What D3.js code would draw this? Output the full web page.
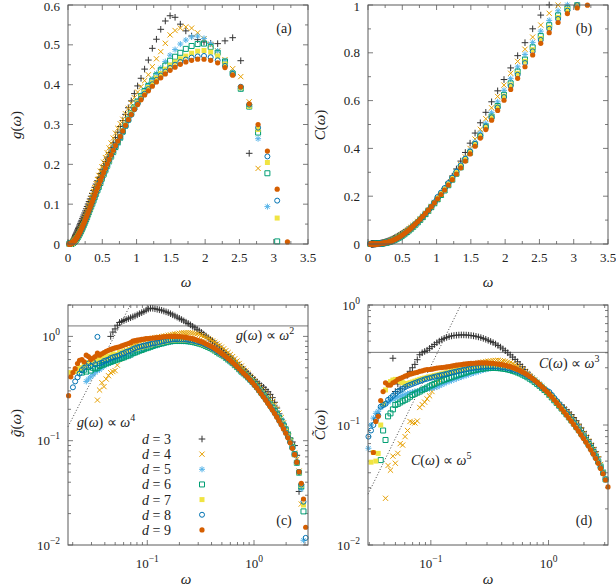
<!DOCTYPE html>
<html><head><meta charset="utf-8">
<script src="https://cdn.jsdelivr.net/npm/d3@7"></script>
<style>
body{margin:0;background:#fff}
svg{display:block}
text{font-family:"Liberation Serif","Times New Roman",serif;fill:#222}
</style>
</head><body>
<svg id="chart" width="616" height="586"></svg>
<script>
// shared frequency grid (log-spaced bins), high to low
const omega = [
3.2,3.0505,2.908,2.7722,2.6427,2.5193,2.4016,2.2894,2.1825,2.0806,
1.9834,1.8908,1.8025,1.7183,1.638,1.5615,1.4886,1.4191,1.3528,1.2896,
1.2294,1.172,1.1172,1.065,1.0153,0.9679,0.9227,0.8796,0.8385,0.7993,
0.762,0.7264,0.6925,0.6601,0.6293,0.5999,0.5719,0.5452,0.5197,0.4954,
0.4723,0.4502,0.4292,0.4092,0.3901,0.3718,0.3545,0.3379,0.3221,0.3071,
0.2928,0.2791,0.266,0.2536,0.2418,0.2305,0.2197,0.2095,0.1997,0.1904,
0.1815,0.173,0.1649,0.1572,0.1499,0.1429,0.1362,0.1298,0.1238,0.118,
0.1125,0.1072,0.1022,0.0975,0.0929,0.0886,0.0844,0.0805,0.0767,0.0732,
0.0697,0.0665,0.0634,0.0604,0.0576,0.0549,0.0524,0.0499,0.0476,0.0454,
0.0433,0.0412,0.0393,0.0375,0.0357,0.0341,0.0325,0.031,0.0295,0.0281,
0.0268,0.0256,0.0244,0.0232,0.0222,0.0211,0.0201,0.0192,0.0183];

// reduced density of states g~(w) = g(w)/w^2, per dimension d
const gt3 = [
null,null,null,null,0.0326,0.0725,0.0898,0.0973,0.1056,0.1164,
0.1289,0.1435,0.1607,0.1812,0.2057,0.2334,0.2586,0.278,0.2945,0.3091,
0.325,0.3362,0.3518,0.3668,0.385,0.403,0.422,0.442,0.463,0.485,
0.508,0.532,0.557,0.583,0.61,0.638,0.667,0.697,0.728,0.76,
0.793,0.827,0.862,0.898,0.935,0.972,1.01,1.05,1.09,1.13,
1.17,1.21,1.25,1.29,1.33,1.37,1.41,1.45,1.49,1.53,
1.57,1.61,1.65,1.69,1.72,1.75,1.78,1.8,1.82,1.84,
1.86,1.86,1.83,1.78,1.73,1.69,1.65,1.61,1.57,1.54,
1.51,1.48,1.45,1.42,1.39,1.36,1.28,1.18,1.1,1.0];
const gt4 = [
null,null,null,0.0247,0.0511,0.0662,0.0763,0.0883,0.1018,0.1155,
0.1309,0.1483,0.1668,0.1846,0.202,0.2198,0.2369,0.2502,0.2639,0.2796,
0.2945,0.3093,0.3285,0.3483,0.37,0.392,0.415,0.44,0.465,0.49,
0.52,0.55,0.58,0.61,0.64,0.67,0.7,0.73,0.76,0.79,
0.82,0.85,0.878,0.905,0.93,0.955,0.978,1.0,1.02,1.04,
1.055,1.067,1.076,1.082,1.085,1.085,1.082,1.077,1.07,1.062,
1.053,1.044,1.035,1.025,1.015,1.005,0.995,0.985,0.978,0.97,
0.96,0.95,0.94,0.93,0.92,0.905,0.89,0.87,0.85,0.83,
0.8,0.77,0.74,0.7,0.663,0.607,0.53,0.47,0.46,0.449,
0.42,0.39,0.33,0.36,0.306,0.245];
const gt5 = [
null,null,0.0111,0.0344,0.0494,0.0614,0.0746,0.0878,0.1018,0.1162,
0.1312,0.146,0.16,0.1734,0.1871,0.2002,0.2139,0.2274,0.2415,0.2574,
0.274,0.2911,0.3101,0.3289,0.347,0.365,0.383,0.401,0.419,0.437,
0.456,0.479,0.502,0.524,0.547,0.569,0.592,0.614,0.636,0.658,
0.679,0.702,0.724,0.746,0.763,0.78,0.797,0.814,0.831,0.843,
0.856,0.867,0.878,0.884,0.89,0.895,0.898,0.9,0.901,0.901,
0.9,0.893,0.886,0.877,0.868,0.856,0.845,0.834,0.823,0.812,
0.8,0.79,0.78,0.77,0.76,0.745,0.73,0.715,0.7,0.685,
0.66,0.65,0.64,0.63,0.62,0.61,0.6,0.59,0.58,0.565,
0.55,0.54,0.52,0.5,0.48,0.47,0.45,0.43,0.41,0.39,
0.37];
const gt6 = [
null,0.0007,0.021,0.0364,0.0494,0.0614,0.0742,0.0874,0.1008,0.1143,
0.1279,0.1404,0.153,0.1659,0.1789,0.1928,0.2076,0.2224,0.2383,0.2544,
0.2713,0.2889,0.3077,0.3272,0.347,0.366,0.385,0.404,0.423,0.442,
0.46,0.484,0.508,0.531,0.555,0.578,0.601,0.624,0.647,0.67,
0.686,0.709,0.732,0.754,0.773,0.791,0.808,0.825,0.842,0.854,
0.865,0.876,0.887,0.893,0.899,0.903,0.905,0.907,0.907,0.907,
0.91,0.903,0.897,0.889,0.88,0.868,0.857,0.846,0.835,0.824,
0.81,0.795,0.78,0.77,0.755,0.74,0.73,0.715,0.7,0.69,
0.67,0.655,0.645,0.63,0.62,0.61,0.6,0.59,0.58,0.57,
0.56,0.55,0.54,0.53,0.52,0.5,0.49,0.5,0.47,0.51,
0.46,0.48,0.45,0.476];
const gt7 = [
null,0.007,0.0242,0.0374,0.0495,0.0618,0.0739,0.0862,0.0991,0.1113,
0.1235,0.1354,0.1474,0.1598,0.1733,0.1874,0.2026,0.218,0.2339,0.2508,
0.268,0.286,0.3053,0.3254,0.344,0.364,0.384,0.404,0.424,0.444,
0.465,0.488,0.511,0.534,0.557,0.58,0.603,0.626,0.649,0.672,
0.694,0.717,0.74,0.763,0.781,0.799,0.817,0.835,0.853,0.866,
0.879,0.891,0.903,0.91,0.917,0.922,0.925,0.927,0.929,0.929,
0.93,0.924,0.918,0.91,0.901,0.891,0.881,0.872,0.862,0.854,
0.85,0.83,0.84,0.81,0.82,0.79,0.8,0.77,0.76,0.775,
0.73,0.74,0.71,0.72,0.69,0.7,0.67,0.66,0.68,0.64,
0.65,0.62,0.63,0.6,0.61,0.58,0.57,0.6,0.55,0.56,
0.52,0.54,0.5,0.5,0.47,0.46,null,0.45];
const gt8 = [
null,0.0117,0.026,0.038,0.0501,0.0622,0.074,0.0853,0.0968,0.1083,
0.12,0.1317,0.144,0.1568,0.1703,0.1846,0.1995,0.215,0.2311,0.2477,
0.2654,0.2831,0.3021,0.3219,0.341,0.361,0.381,0.402,0.422,0.442,
0.463,0.487,0.511,0.535,0.558,0.582,0.605,0.628,0.652,0.675,
0.697,0.721,0.745,0.769,0.788,0.807,0.826,0.845,0.864,0.878,
0.888,0.9,0.912,0.919,0.926,0.93,0.934,0.936,0.938,0.939,
0.94,0.934,0.928,0.92,0.911,0.901,0.891,0.881,0.871,0.863,
0.855,0.845,0.835,0.825,0.815,0.805,0.795,0.785,0.77,0.755,
0.73,0.72,0.71,0.69,0.68,0.66,0.65,0.64,0.63,0.62,
0.6,0.59,0.58,0.56,0.55,0.99,0.54,0.57,0.52,0.55,
0.52,0.5,0.476,0.44,0.405,0.37,0.325];
const gt9 = [
0.0005,0.0148,0.0276,0.039,0.0504,0.0622,0.0735,0.0845,0.0955,0.1065,
0.1179,0.1298,0.1419,0.1548,0.1681,0.1821,0.1968,0.212,0.2279,0.2447,
0.262,0.28,0.2997,0.3192,0.3395,0.3608,0.3817,0.4033,0.4238,0.4445,
0.465,0.49,0.515,0.54,0.565,0.59,0.615,0.64,0.665,0.69,
0.715,0.74,0.765,0.79,0.81,0.83,0.85,0.87,0.89,0.905,
0.92,0.935,0.95,0.96,0.97,0.978,0.985,0.99,0.995,0.998,
1.0,1.0,1.0,0.998,0.995,0.99,0.985,0.98,0.975,0.97,
0.965,0.96,0.955,0.95,0.94,0.935,0.925,0.92,0.91,0.9,
0.87,0.855,0.84,0.825,0.81,0.795,0.785,0.775,0.765,0.75,
0.735,0.72,0.7,0.68,0.66,0.69,0.64,0.62,0.6,0.64,
0.66,0.57,0.6,0.59,0.55,0.49,0.45,0.41,0.27];

// reduced cumulative C~(w) = C(w)/w^3, per dimension d
const ct3 = [
null,null,null,null,0.0542,0.0599,0.065,0.0702,0.0758,0.0818,
0.0882,0.0948,0.1016,0.1086,0.1154,0.1219,0.1279,0.134,0.1401,0.1464,
0.1529,0.1596,0.1664,0.1738,0.1815,0.189,0.197,0.206,0.215,0.225,
0.236,0.248,0.261,0.275,0.29,0.305,0.32,0.336,0.352,0.368,
0.384,0.4,0.416,0.431,0.446,0.46,0.473,0.486,0.497,0.508,
0.518,0.527,0.535,0.542,0.548,0.553,0.557,0.56,0.562,0.563,
0.563,0.562,0.56,0.557,0.552,0.545,0.537,0.527,0.515,0.5,
0.485,0.468,0.45,0.435,0.42,0.41,0.4,0.385,0.35,0.32,
0.3,0.28,0.26,0.21,0.23,0.2,0.22,0.19,0.36];
const ct4 = [
null,null,null,0.0469,0.0523,0.0573,0.0625,0.0679,0.0735,0.0793,
0.0852,0.0913,0.0973,0.1033,0.1092,0.1153,0.1212,0.1274,0.1341,0.1408,
0.148,0.1553,0.1628,0.1705,0.1787,0.187,0.196,0.205,0.215,0.225,
0.236,0.247,0.258,0.269,0.28,0.29,0.3,0.309,0.317,0.324,
0.33,0.335,0.339,0.342,0.344,0.345,0.345,0.344,0.342,0.34,
0.338,0.335,0.332,0.328,0.324,0.32,0.316,0.312,0.308,0.304,
0.3,0.296,0.292,0.287,0.282,0.276,0.27,0.26,0.248,0.237,
0.225,0.208,0.19,0.175,0.165,0.155,0.148,0.14,0.108,0.104,
0.105,0.107,0.09,0.08,0.068,0.07,0.058,0.048,0.055,0.042,
0.046,0.0245];
const ct5 = [
null,null,0.0407,0.0458,0.0507,0.0557,0.0609,0.0661,0.0713,0.0768,
0.0824,0.088,0.0938,0.0995,0.1058,0.1122,0.1188,0.1256,0.1329,0.1408,
0.1491,0.1571,0.1664,0.1755,0.1854,0.194,0.203,0.212,0.221,0.23,
0.239,0.248,0.256,0.264,0.271,0.277,0.283,0.288,0.292,0.296,
0.299,0.301,0.302,0.303,0.303,0.302,0.301,0.299,0.297,0.294,
0.291,0.287,0.283,0.279,0.275,0.271,0.267,0.263,0.259,0.255,
0.251,0.247,0.243,0.239,0.235,0.231,0.227,0.222,0.217,0.212,
0.207,0.205,0.203,0.201,0.2,0.198,0.196,0.194,0.192,0.19,
0.188,0.185,0.182,0.18,0.177,0.174,0.171,0.168,0.165,0.16,
0.155,0.15,0.145,0.14,0.13,0.125,0.114,0.1,0.064];
const ct6 = [
null,0.0352,0.0401,0.0449,0.0496,0.0544,0.0594,0.0643,0.0694,0.0746,
0.08,0.0854,0.091,0.0968,0.1028,0.1093,0.1158,0.1228,0.1296,0.1371,
0.1448,0.1528,0.1607,0.1697,0.1787,0.188,0.196,0.204,0.212,0.22,
0.228,0.236,0.243,0.25,0.257,0.263,0.269,0.274,0.279,0.283,
0.287,0.29,0.293,0.295,0.297,0.298,0.299,0.299,0.299,0.298,
0.297,0.295,0.293,0.291,0.288,0.285,0.282,0.278,0.274,0.27,
0.266,0.262,0.258,0.254,0.25,0.246,0.242,0.238,0.234,0.23,
0.225,0.22,0.215,0.21,0.205,0.2,0.195,0.19,0.186,0.182,
0.178,0.172,0.166,0.162,0.158,0.154,0.15,0.147,0.135,0.125,
0.118,0.075,0.09,0.051];
const ct7 = [
null,0.0352,0.0399,0.0445,0.0491,0.0538,0.0587,0.0637,0.0687,0.0739,
0.0793,0.0849,0.0907,0.0968,0.1033,0.1098,0.1167,0.1239,0.1317,0.1394,
0.1475,0.1559,0.165,0.1738,0.1835,0.191,0.2,0.209,0.218,0.227,
0.236,0.244,0.252,0.26,0.267,0.274,0.28,0.285,0.29,0.295,
0.299,0.302,0.305,0.308,0.31,0.312,0.313,0.314,0.314,0.314,
0.313,0.312,0.311,0.309,0.307,0.305,0.303,0.3,0.297,0.294,
0.291,0.288,0.285,0.282,0.279,0.276,0.273,0.27,0.267,0.264,
0.261,0.258,0.255,0.252,0.249,0.246,0.243,0.24,0.236,0.232,
0.228,0.225,0.222,0.22,0.225,0.23,0.235,0.24,0.237,0.23,
0.222,0.196,0.15,0.1,0.058,0.05,0.059,0.049];
const ct8 = [
null,0.0352,0.0397,0.0442,0.0488,0.0534,0.0582,0.0631,0.0681,0.0734,
0.0788,0.0845,0.0905,0.0968,0.1033,0.1101,0.1173,0.1249,0.1329,0.1413,
0.1496,0.1584,0.1679,0.178,0.1882,0.192,0.199,0.207,0.216,0.225,
0.234,0.242,0.25,0.258,0.265,0.271,0.277,0.282,0.287,0.291,
0.295,0.298,0.301,0.303,0.305,0.306,0.307,0.308,0.308,0.308,
0.307,0.306,0.305,0.303,0.301,0.299,0.297,0.294,0.291,0.288,
0.285,0.282,0.279,0.276,0.273,0.27,0.267,0.264,0.261,0.258,
0.255,0.252,0.249,0.246,0.243,0.24,0.236,0.232,0.228,0.224,
0.22,0.216,0.212,0.207,0.2,0.195,0.19,0.182,0.175,0.168,
0.162,0.15,0.147,0.142,0.12,0.11,0.1,0.09,0.08];
const ct9 = [
0.0305,0.0348,0.0392,0.0435,0.0479,0.0525,0.0571,0.0618,0.0667,0.0718,
0.0771,0.0827,0.0885,0.0944,0.1008,0.1074,0.1143,0.1214,0.1288,0.1366,
0.1448,0.1534,0.1621,0.1714,0.1806,0.19,0.199,0.208,0.218,0.227,
0.236,0.245,0.254,0.262,0.27,0.277,0.284,0.29,0.296,0.301,
0.306,0.31,0.314,0.317,0.32,0.322,0.324,0.326,0.327,0.328,
0.329,0.329,0.329,0.329,0.328,0.327,0.326,0.325,0.323,0.321,
0.319,0.317,0.315,0.312,0.31,0.307,0.305,0.303,0.301,0.3,
0.298,0.295,0.292,0.29,0.29,0.287,0.283,0.28,0.275,0.272,
0.268,0.265,0.26,0.255,0.25,0.245,0.24,0.23,0.225,0.215,
0.215,0.225,0.19,0.16,0.118,0.107,0.059];

const dims = [3,4,5,6,7,8,9];
const seriesColors = ["#333333","#E69F00","#56B4E9","#009E73","#F0E442","#0072B2","#D55E00"];
const seriesMarkers = ["plus","cross","star","osq","fsq","ocirc","fcirc"];
const gTildeSeries = [gt3,gt4,gt5,gt6,gt7,gt8,gt9];
const cTildeSeries = [ct3,ct4,ct5,ct6,ct7,ct8,ct9];

// reference laws
const gDebyeLevel = 1.26, gQuarticCoef = 417;
const cDebyeLevel = 0.403, cQuinticCoef = 31;

// tick definitions
const linXTicks = [0,0.5,1,1.5,2,2.5,3,3.5];
const linXLabels = ["0","0.5","1","1.5","2","2.5","3","3.5"];
const gYTicks = [0,0.1,0.2,0.3,0.4,0.5,0.6];
const gYLabels = ["0","0.1","0.2","0.3","0.4","0.5","0.6"];
const cYTicks = [0,0.2,0.4,0.6,0.8,1];
const cYLabels = ["0","0.2","0.4","0.6","0.8","1"];
const logXTicks = [0.1,1];
const logXExp = ["\u22121","0"];
const logYTicks = [0.01,0.1,1];
const logYExp = ["\u22122","\u22121","0"];

const svg = d3.select("#chart");
const AXIS = "#5a5a5a";

const markerPath = {
  plus: "M-3.3,0H3.3M0,-3.3V3.3",
  cross: "M-2.6,-2.6L2.6,2.6M-2.6,2.6L2.6,-2.6",
  star: "M-3,0H3M0,-3V3M-2.2,-2.2L2.2,2.2M-2.2,2.2L2.2,-2.2",
  osq: "M-2.5,-2.5H2.5V2.5H-2.5Z",
  fsq: "M-2.5,-2.5H2.5V2.5H-2.5Z",
  ocirc: "M2.5,0A2.5,2.5 0 1,1 -2.5,0A2.5,2.5 0 1,1 2.5,0Z",
  fcirc: "M2.6,0A2.6,2.6 0 1,1 -2.6,0A2.6,2.6 0 1,1 2.6,0Z"
};
const filled = {fsq:true, fcirc:true};

function addMarker(g, type, color, x, y) {
  const p = g.append("path").attr("d", markerPath[type])
    .attr("transform", `translate(${x},${y})`);
  if (filled[type]) p.attr("fill", color).attr("stroke","none");
  else p.attr("fill","none").attr("stroke", color).attr("stroke-width", 1);
}

const panels = [
  {name:"(a)", xs:d3.scaleLinear().domain([0,3.5]).range([68,308]),
   ys:d3.scaleLinear().domain([0,0.6]).range([244,5]),
   series:gTildeSeries, power:2, log:false, yT:gYTicks, yL:gYLabels, yMinor:0.05, xMinor:0.25},
  {name:"(b)", xs:d3.scaleLinear().domain([0,3.5]).range([368,608]),
   ys:d3.scaleLinear().domain([0,1]).range([244,5]),
   series:cTildeSeries, power:3, log:false, yT:cYTicks, yL:cYLabels, yMinor:0.1, xMinor:0.25},
  {name:"(c)", xs:d3.scaleLog().domain([0.01807,3.206]).range([68,308]),
   ys:d3.scaleLog().domain([0.01,2]).range([545,305]),
   series:gTildeSeries, power:0, log:true},
  {name:"(d)", xs:d3.scaleLog().domain([0.02924,3.2]).range([368,608]),
   ys:d3.scaleLog().domain([0.01,1]).range([545,305]),
   series:cTildeSeries, power:0, log:true}
];

function logMinors(domain) {
  const out = [];
  const lo = Math.floor(Math.log10(domain[0])), hi = Math.ceil(Math.log10(domain[1]));
  for (let e = lo; e <= hi; e++) for (let m = 2; m <= 9; m++) {
    const v = m * Math.pow(10, e);
    if (v >= domain[0] && v <= domain[1]) out.push(v);
  }
  return out;
}

panels.forEach(P => {
  const g = svg.append("g");
  const [x0,x1] = P.xs.range(), [y1,y0] = P.ys.range();
  const MAJ = 5, MIN = 3;
  const tickG = g.append("g").attr("stroke",AXIS).attr("stroke-width",0.8);
  function xTick(v, len) {
    const x = P.xs(v);
    tickG.append("line").attr("x1",x).attr("x2",x).attr("y1",y1).attr("y2",y1-len);
    tickG.append("line").attr("x1",x).attr("x2",x).attr("y1",y0).attr("y2",y0+len);
  }
  function yTick(v, len) {
    const y = P.ys(v);
    tickG.append("line").attr("x1",x0).attr("x2",x0+len).attr("y1",y).attr("y2",y);
    tickG.append("line").attr("x1",x1).attr("x2",x1-len).attr("y1",y).attr("y2",y);
  }
  if (!P.log) {
    linXTicks.forEach((v,i) => {
      xTick(v, MAJ);
      if (i < linXTicks.length-1) xTick(v + P.xMinor, MIN);
      g.append("text").attr("x",P.xs(v)).attr("y",y1+18).attr("text-anchor","middle")
        .attr("font-size",13).text(linXLabels[i]);
    });
    P.yT.forEach((v,i) => {
      yTick(v, MAJ);
      if (i < P.yT.length-1) yTick(v + P.yMinor, MIN);
      g.append("text").attr("x",x0-8).attr("y",Math.max(P.ys(v)+4.5, 11)).attr("text-anchor","end")
        .attr("font-size",13).text(P.yL[i]);
    });
  } else {
    logXTicks.forEach((v,i) => {
      xTick(v, MAJ);
      const t = g.append("text").attr("x",P.xs(v)).attr("y",y1+23).attr("text-anchor","middle")
        .attr("font-size",13).text("10");
      t.append("tspan").attr("dy",-6).attr("font-size",9.5).text(logXExp[i]);
    });
    logMinors(P.xs.domain()).forEach(v => xTick(v, MIN));
    logYTicks.forEach((v,i) => {
      yTick(v, MAJ);
      const t = g.append("text").attr("x",x0-8).attr("y",P.ys(v)+4.5).attr("text-anchor","end")
        .attr("font-size",13).text("10");
      t.append("tspan").attr("dy",-6).attr("font-size",9.5).text(logYExp[i]);
    });
    logMinors(P.ys.domain()).forEach(v => yTick(v, MIN));
  }

  // reference lines
  if (P.name === "(c)" || P.name === "(d)") {
    const lev = P.name === "(c)" ? gDebyeLevel : cDebyeLevel;
    const coef = P.name === "(c)" ? gQuarticCoef : cQuinticCoef;
    g.append("line").attr("x1",x0).attr("x2",x1).attr("y1",P.ys(lev)).attr("y2",P.ys(lev))
      .attr("stroke","#666").attr("stroke-width",0.9);
    const wl = P.xs.domain()[0];
    const wt = Math.sqrt(P.ys.domain()[1] / coef);
    g.append("line").attr("x1",P.xs(wl)).attr("y1",P.ys(coef*wl*wl))
      .attr("x2",P.xs(wt)).attr("y2",P.ys(coef*wt*wt))
      .attr("stroke","#444").attr("stroke-width",1).attr("stroke-dasharray","1,2");
  }

  // data points
  const ptsG = g.append("g");
  const xd = P.xs.domain(), yd = P.ys.domain();
  P.series.forEach((arr, si) => {
    const sg = ptsG.append("g");
    omega.forEach((w, k) => {
      const v = arr[k];
      if (v === null || v === undefined) return;
      const val = v * Math.pow(w, P.power);
      if (w < xd[0]*0.995 || w > xd[1]*1.005) return;
      if (val < yd[0] - 1e-9 || val > yd[1]*1.01) return;
      if (P.log && val < yd[0]) return;
      addMarker(sg, seriesMarkers[si], seriesColors[si], P.xs(w), P.ys(val));
    });
  });

  // frame
  g.append("rect").attr("x",x0).attr("y",y0).attr("width",x1-x0).attr("height",y1-y0)
    .attr("fill","none").attr("stroke",AXIS).attr("stroke-width",1);
});

// axis titles
function title(x, y, rot, parts, size) {
  const t = svg.append("text").attr("font-size", size || 15)
    .attr("text-anchor","middle")
    .attr("transform", `translate(${x},${y})` + (rot ? " rotate(-90)" : ""));
  parts.forEach(p => {
    const s = t.append("tspan").text(p.t);
    if (p.i) s.attr("font-style","italic");
  });
  return t;
}
const OM = "\u03c9";
title(21, 125, true, [{t:"g",i:1},{t:"("},{t:OM,i:1},{t:")"}]);
title(325, 125, true, [{t:"C",i:1},{t:"("},{t:OM,i:1},{t:")"}]);
title(21, 423, true, [{t:"g\u0303",i:1},{t:"("},{t:OM,i:1},{t:")"}]);
title(325, 425, true, [{t:"C\u0303",i:1},{t:"("},{t:OM,i:1},{t:")"}]);
title(186, 287, false, [{t:OM,i:1}]);
title(488, 287, false, [{t:OM,i:1}]);
title(186, 584, false, [{t:OM,i:1}]);
title(488, 584, false, [{t:OM,i:1}]);

// panel letters
[["(a)",284,33],["(b)",584,33],["(c)",284,525],["(d)",584,525]].forEach(d =>
  svg.append("text").attr("x",d[1]).attr("y",d[2]).attr("text-anchor","middle")
    .attr("font-size",14).text(d[0]));

// law labels
function lawLabel(x, y, fn, exp) {
  const t = svg.append("text").attr("x",x).attr("y",y).attr("font-size",14);
  t.append("tspan").attr("font-style","italic").text(fn);
  t.append("tspan").text("(");
  t.append("tspan").attr("font-style","italic").text(OM);
  t.append("tspan").text(") \u221d ");
  t.append("tspan").attr("font-style","italic").text(OM);
  t.append("tspan").attr("dy",-6).attr("font-size",10).text(exp);
}
lawLabel(236, 340, "g", "2");
lawLabel(77, 427, "g", "4");
lawLabel(539, 368, "C", "3");
lawLabel(411, 465, "C", "5");

// legend
const lg = svg.append("g");
dims.forEach((d, i) => {
  const y = 439 + i * 15.15;
  const t = lg.append("text").attr("x",142).attr("y",y+5).attr("font-size",14);
  t.append("tspan").attr("font-style","italic").text("d");
  t.append("tspan").text(" = " + d);
  addMarker(lg, seriesMarkers[i], seriesColors[i], 202, y);
});
</script>
</body></html>
